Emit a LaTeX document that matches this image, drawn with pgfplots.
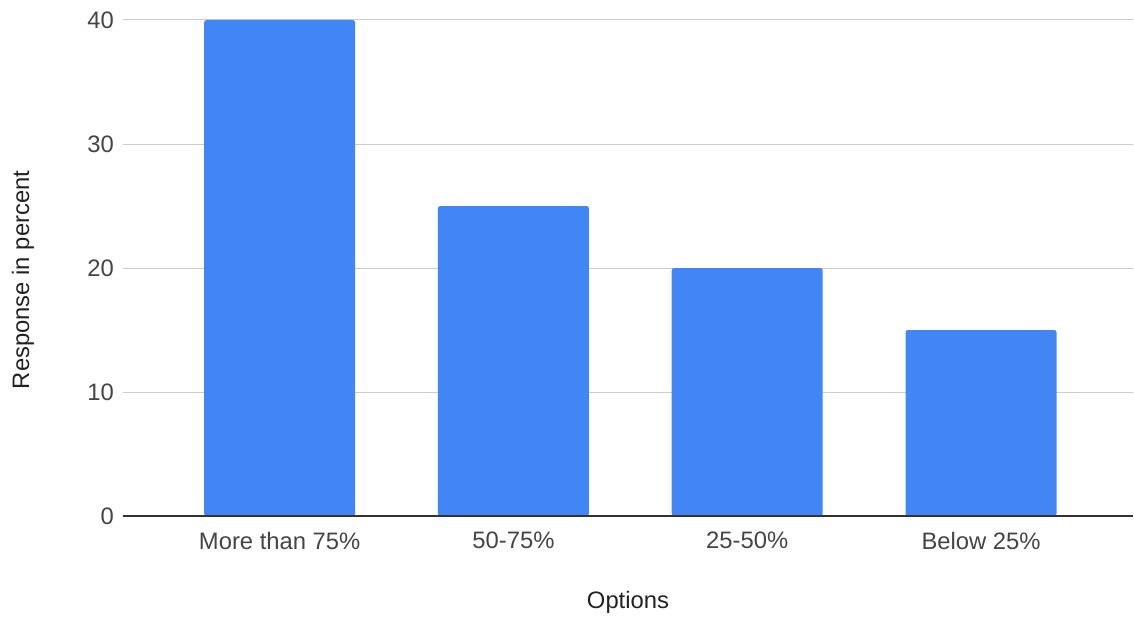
\documentclass[border=0pt]{standalone}
\usepackage{pgfplots}
\pgfplotsset{compat=1.18}
\usepackage{fontspec}
\setmainfont{Liberation Sans}
\definecolor{barblue}{HTML}{4285F4}
\definecolor{gridgray}{HTML}{CCCCCC}
\definecolor{ticktext}{HTML}{444444}
\definecolor{labeltext}{HTML}{222222}
\begin{document}
\begin{tikzpicture}
\begin{axis}[
  scale only axis,
  width=505pt, height=248pt,
  xmin=-0.67, xmax=3.65,
  ymin=0, ymax=40,
  clip=false,
  axis x line*=bottom,
  axis y line*=left,
  y axis line style={draw=none},
  x axis line style={draw=black!80, line width=0.8pt, -},
  major tick length=0pt,
  xtick={0,1,2,3},
  xticklabels={More than 75\%, 50-75\%, 25-50\%, Below 25\%},
  ytick={0,10,20,30,40},
  ymajorgrids,
  grid style={gridgray, line width=0.5pt},
  /pgf/number format/assume math mode=true,
  tick label style={font=\fontsize{11.9}{14}\selectfont, text=ticktext},
  xticklabel style={yshift=-4.5pt},
  yticklabel style={xshift=-1pt},
  label style={font=\fontsize{11.9}{14}\selectfont, text=labeltext},
  xlabel={Options},
  ylabel={Response in percent},
  xlabel style={at={(axis description cs:0.5,-0.175)}, anchor=center},
  ylabel style={at={(axis description cs:-0.099,0.476)}, anchor=center},
  ybar, bar width=75.5pt,
  axis on top=false,
]
\addplot[fill=barblue, draw=none, rounded corners=1.2pt] coordinates {(0,40) (1,25) (2,20) (3,15)};
\coordinate (plotSW) at (rel axis cs:0,0);
\coordinate (plotNE) at (rel axis cs:1,1);
\end{axis}
\draw[black!80, line width=0.8pt] (plotSW) -- (plotSW -| plotNE);
\path (plotSW) ++(-61.5pt,-48.5pt) coordinate (bbA);
\path (plotNE) ++(0.5pt,10pt) coordinate (bbB);
\path (bbA) rectangle (bbB);
\end{tikzpicture}
\end{document}
